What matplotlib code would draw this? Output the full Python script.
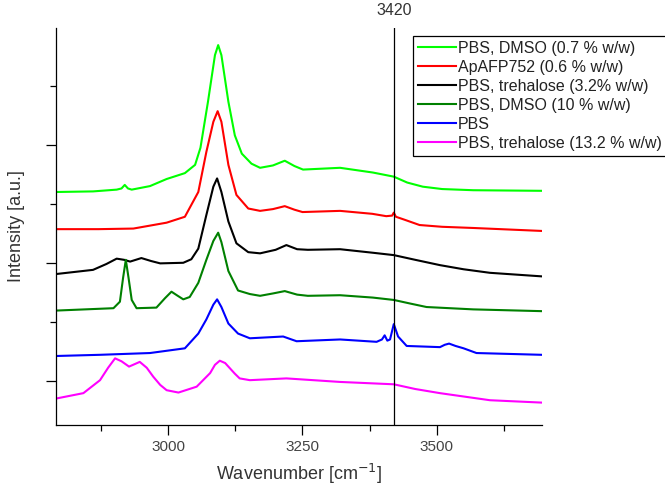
import matplotlib
matplotlib.use("Agg")
import matplotlib.pyplot as plt
from matplotlib.ticker import MultipleLocator, NullFormatter

plt.rcParams['font.family'] = ['Liberation Sans', 'DejaVu Sans']

# spectra (wavenumber, intensity with offset)
dmso07_wn = [2792, 2860, 2904, 2913, 2919, 2925, 2932, 2966, 2997, 3031, 3050,
             3060, 3074, 3087, 3093, 3099, 3112, 3124, 3137, 3155, 3171, 3195,
             3217, 3235, 3251, 3320, 3381, 3420, 3445, 3474, 3510, 3568, 3695]
dmso07_int = [3.20, 3.21, 3.24, 3.26, 3.32, 3.26, 3.24, 3.30, 3.42, 3.52, 3.66,
              3.95, 4.73, 5.52, 5.69, 5.52, 4.73, 4.16, 3.85, 3.68, 3.61, 3.65,
              3.73, 3.64, 3.58, 3.61, 3.53, 3.46, 3.36, 3.29, 3.25, 3.23, 3.22]

apafp_wn = [2792, 2870, 2935, 2997, 3031, 3056, 3071, 3084, 3092, 3099, 3112,
            3127, 3149, 3171, 3195, 3217, 3235, 3250, 3320, 3380, 3406, 3417,
            3420, 3424, 3440, 3468, 3510, 3568, 3695]
apafp_int = [2.57, 2.57, 2.58, 2.68, 2.78, 3.20, 3.88, 4.39, 4.57, 4.39, 3.66,
             3.15, 2.92, 2.88, 2.91, 2.96, 2.90, 2.86, 2.88, 2.83, 2.79, 2.80,
             2.85, 2.78, 2.73, 2.64, 2.61, 2.59, 2.54]

treh32_wn = [2792, 2860, 2885, 2904, 2918, 2929, 2950, 2968, 2985, 3028, 3043,
             3056, 3071, 3084, 3091, 3099, 3112, 3127, 3149, 3171, 3200, 3220,
             3240, 3260, 3320, 3381, 3420, 3460, 3506, 3550, 3599, 3695]
treh32_int = [1.81, 1.88, 1.98, 2.07, 2.05, 2.02, 2.08, 2.03, 1.99, 2.00, 2.06,
              2.24, 2.81, 3.29, 3.43, 3.20, 2.70, 2.33, 2.18, 2.16, 2.22, 2.30,
              2.23, 2.22, 2.23, 2.17, 2.13, 2.05, 1.96, 1.89, 1.83, 1.77]

dmso10_wn = [2792, 2898, 2910, 2916, 2921, 2926, 2932, 2941, 2978, 2994, 3006,
             3016, 3028, 3040, 3056, 3071, 3084, 3093, 3099, 3112, 3130, 3152,
             3171, 3195, 3217, 3240, 3260, 3320, 3381, 3420, 3450, 3481, 3568,
             3695]
dmso10_int = [1.19, 1.23, 1.34, 1.75, 2.05, 1.75, 1.37, 1.23, 1.24, 1.40, 1.51,
              1.45, 1.38, 1.42, 1.66, 2.05, 2.37, 2.51, 2.35, 1.86, 1.53, 1.47,
              1.44, 1.48, 1.52, 1.46, 1.44, 1.45, 1.41, 1.37, 1.31, 1.25, 1.21,
              1.18]

pbs_wn = [2792, 2873, 2966, 3031, 3056, 3071, 3084, 3091, 3099, 3112, 3130,
          3152, 3214, 3239, 3320, 3388, 3398, 3403, 3408, 3413, 3420, 3428,
          3444, 3506, 3515, 3523, 3535, 3550, 3574, 3695]
pbs_int = [0.42, 0.44, 0.47, 0.55, 0.80, 1.04, 1.29, 1.38, 1.25, 0.97, 0.80,
           0.72, 0.75, 0.67, 0.70, 0.66, 0.70, 0.77, 0.68, 0.70, 0.96, 0.75,
           0.59, 0.57, 0.61, 0.63, 0.59, 0.55, 0.47, 0.44]

treh132_wn = [2792, 2842, 2873, 2888, 2901, 2913, 2927, 2947, 2960, 2972, 2985,
              2997, 3019, 3053, 3078, 3087, 3096, 3106, 3115, 3124, 3133, 3152,
              3220, 3320, 3420, 3460, 3506, 3599, 3695]
treh132_int = [-0.30, -0.21, 0.01, 0.22, 0.38, 0.33, 0.24, 0.32, 0.22, 0.07,
               -0.07, -0.16, -0.20, -0.10, 0.13, 0.27, 0.34, 0.30, 0.21, 0.12,
               0.04, 0.01, 0.04, -0.02, -0.06, -0.14, -0.21, -0.33, -0.37]

labels = ['PBS, DMSO (0.7 % w/w)', 'ApAFP752 (0.6 % w/w)',
          'PBS, trehalose (3.2% w/w)', 'PBS, DMSO (10 % w/w)', 'PBS',
          'PBS, trehalose (13.2 % w/w)']
colors = ['#00ff00', '#ff0000', '#000000', '#008000', '#0000ff', '#ff00ff']
marker_wn = 3420

series = [(dmso07_wn, dmso07_int), (apafp_wn, apafp_int),
          (treh32_wn, treh32_int), (dmso10_wn, dmso10_int),
          (pbs_wn, pbs_int), (treh132_wn, treh132_int)]

fig = plt.figure(figsize=(6.65, 4.9), dpi=100)
ax = fig.add_axes([56 / 665, 1 - 425 / 490, (542 - 56) / 665, (425 - 28) / 490])

for (wn, y), lab, c in zip(series, labels, colors):
    ax.plot(wn, y, color=c, lw=1.5, label=lab, solid_joinstyle='round')

ax.axvline(marker_wn, color='black', lw=0.9)
ax.text(marker_wn, 1.025, str(marker_wn), transform=ax.get_xaxis_transform(),
        ha='center', va='bottom', fontsize=11.5, color='#333333')

ax.set_xlim(2791, 3696)
ax.set_ylim(-0.75, 5.98)

ax.xaxis.set_major_locator(MultipleLocator(250))
ax.xaxis.set_minor_locator(MultipleLocator(125))
ax.yaxis.set_major_locator(MultipleLocator(2))
ax.yaxis.set_minor_locator(MultipleLocator(1))
ax.yaxis.set_major_formatter(NullFormatter())
ax.tick_params(which='major', length=7, width=0.9, direction='out',
               labelsize=11, labelcolor='#444444')
ax.tick_params(which='minor', length=4, width=0.9, direction='out')

for s in ['top', 'right']:
    ax.spines[s].set_visible(False)
for s in ['left', 'bottom']:
    ax.spines[s].set_linewidth(0.9)

ax.set_xlabel('Wavenumber [cm$^{-1}$]', fontsize=13, color='#333333', labelpad=6)
ax.set_ylabel('Intensity [a.u.]', fontsize=13, color='#333333', labelpad=12)

leg = ax.legend(loc='upper left', bbox_to_anchor=(413 / 665, 1 - 36 / 490),
                bbox_transform=fig.transFigure, fontsize=11.5, frameon=True,
                fancybox=False, edgecolor='black', framealpha=1,
                handlelength=2.4, handletextpad=0.1, labelspacing=0.25,
                borderpad=0.3, borderaxespad=0)
leg.get_frame().set_linewidth(0.9)
for t in leg.get_texts():
    t.set_color('#222222')

fig.savefig('out.png', dpi=100)
